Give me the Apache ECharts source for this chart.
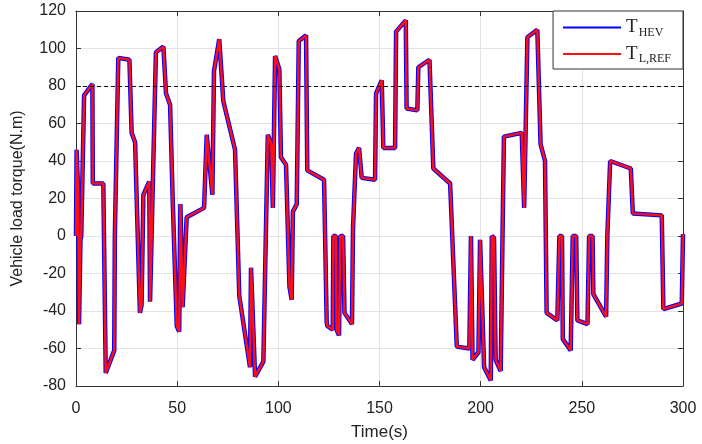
<!DOCTYPE html>
<html>
<head>
<meta charset="utf-8">
<script src="https://cdn.jsdelivr.net/npm/echarts@6/dist/echarts.min.js"></script>
<style>
  html, body { margin: 0; padding: 0; background: #fff; }
  #chart { width: 702px; height: 444px; }
</style>
</head>
<body>
<div id="chart"></div>
<script>
// time stamps (s)
const timeS = [
  0, 0.3, 1.0, 1.1, 1.5, 2.2, 2.6, 4.0, 8.1, 8.3, 13.5, 14.7, 18.9, 19.2, 19.4,
  20.9, 26.4, 27.5, 29.2, 31.6, 32.4, 33.3, 36.2, 36.6, 39.5, 43.2, 44.5, 46.5,
  47.8, 49.8, 51.0, 51.6, 52.7, 54.7, 63.3, 64.6, 67.4, 68.2, 70.8, 72.8, 78.6,
  80.7, 86.0, 86.5, 88.5, 92.6, 94.8, 96.5, 97.3, 98.4, 100.5, 101.3, 103.8,
  105.5, 106.6, 107.2, 109.1, 110.1, 113.7, 114.3, 122.6, 123.9, 124.2, 126.9,
  127.2, 128.5, 128.8, 130.0, 130.6, 132.0, 132.7, 136.4, 136.9, 138.4, 139.9,
  141.2, 147.8, 148.3, 151.1, 151.9, 157.7, 158.2, 163.0, 163.4, 168.7, 169.2,
  174.7, 176.6, 184.9, 188.2, 194.4, 195.2, 196.0, 198.9, 199.7, 201.7, 205.0,
  205.5, 206.6, 207.4, 209.9, 210.8, 211.5, 220.3, 221.5, 223.1, 228.0, 229.6,
  231.8, 232.6, 237.9, 238.9, 240.2, 240.6, 244.5, 245.5, 247.2, 247.8, 252.8,
  253.6, 255.3, 255.7, 262.0, 262.6, 264.0, 274.2, 275.2, 289.5, 290.3, 299.4, 300
];
// reference load torque T_L,REF (N.m)
const loadRef = [
  0, 46, 45, 22, -47, -2, 0, 75, 81, 28, 28, -73, -61, 0, 0,
  95, 94, 55, 50, -41, -37, 22, 29, -35, 98, 101, 76, 70,
  19, -48, -51, 17, -38, 10, 15, 54, 22, 88, 105, 72, 46,
  -32, -70, -17, -75, -67, 54, 49, 15, 96, 89, 42, 38,
  -27, -34, 13, 17, 104, 107, 35, 30, -46, -48, -50,
  0, 0, -50, -53, 0, 0, -41, -47, 4, 44, 47,
  31, 30, 76, 83, 47, 47, 109, 115, 68, 67, 90,
  94, 36, 28, -59, -60, 0, -66, -62, -2, -70, -77,
  0, -1, -66, -72, 0, 53, 55, 15, 106, 110, 49,
  40, -41, -45, 0, 0, -55, -61, 0, 0, -45, -47,
  0, 0, -31, -43, 0, 40, 36, 12, 11, -39, -36, 1
];
// HEV delivered torque follows the reference (curves overlap in the figure)
const hevTorque = loadRef.slice();
const limitTorque = 80;

const xTicks = { min: 0, max: 300, interval: 50 };
const yTicks = { min: -80, max: 120, interval: 20 };

const toPairs = (vals) => timeS.map((t, i) => [t, vals[i]]);

const chart = echarts.init(document.getElementById("chart"));
const tickFont = { fontFamily: "Liberation Sans", fontSize: 16, color: "#222" };

chart.setOption({
  animation: false,
  grid: { left: 76, right: 19, top: 11, bottom: 58, outerBoundsMode: "none" },
  legend: {
    right: 19,
    top: 11,
    orient: "vertical",
    backgroundColor: "#fff",
    borderColor: "#333",
    borderWidth: 1,
    borderRadius: 0,
    padding: [7, 12, 4, 10],
    itemGap: 6,
    itemWidth: 58,
    itemHeight: 2,
    icon: "rect",
    formatter: function (name) {
      return name === "T_HEV" ? "{t|T}{s|HEV}" : "{t|T}{s|L,REF}";
    },
    textStyle: {
      rich: {
        t: { fontFamily: "Liberation Serif", fontSize: 19, color: "#222" },
        s: { fontFamily: "Liberation Serif", fontSize: 12, color: "#222", padding: [10, 0, 0, 1] }
      }
    },
    data: ["T_HEV", "T_L,REF"]
  },
  xAxis: [
    {
      type: "value",
      min: xTicks.min, max: xTicks.max, interval: xTicks.interval,
      name: "Time(s)",
      nameLocation: "middle",
      nameGap: 38,
      nameTextStyle: { fontFamily: "Liberation Sans", fontSize: 17, color: "#222" },
      axisLine: { onZero: false, lineStyle: { color: "#333", width: 1 } },
      axisTick: { inside: true, length: 5, lineStyle: { color: "#333" } },
      axisLabel: Object.assign({ margin: 15 }, tickFont),
      splitLine: { show: true, lineStyle: { color: "#e3e3e3", width: 1 } }
    },
    {
      type: "value", position: "top",
      min: xTicks.min, max: xTicks.max, interval: xTicks.interval,
      axisLine: { onZero: false, lineStyle: { color: "#333", width: 1 } },
      axisTick: { inside: true, length: 5, lineStyle: { color: "#333" } },
      axisLabel: { show: false },
      splitLine: { show: false }
    }
  ],
  yAxis: [
    {
      type: "value",
      min: yTicks.min, max: yTicks.max, interval: yTicks.interval,
      name: "Vehicle load torque(N.m)",
      nameLocation: "middle",
      nameGap: 50,
      nameTextStyle: { fontFamily: "Liberation Sans", fontSize: 16, color: "#222" },
      axisLine: { show: true, onZero: false, lineStyle: { color: "#333", width: 1 } },
      axisTick: { show: true, inside: true, length: 5, lineStyle: { color: "#333" } },
      axisLabel: Object.assign({ margin: 10 }, tickFont),
      splitLine: { show: true, lineStyle: { color: "#e3e3e3", width: 1 } }
    },
    {
      type: "value", position: "right",
      min: yTicks.min, max: yTicks.max, interval: yTicks.interval,
      axisLine: { show: true, onZero: false, lineStyle: { color: "#333", width: 1 } },
      axisTick: { show: true, inside: true, length: 5, lineStyle: { color: "#333" } },
      axisLabel: { show: false },
      splitLine: { show: false }
    }
  ],
  series: [
    {
      name: "T_HEV",
      type: "line",
      data: toPairs(hevTorque),
      showSymbol: false,
      color: "#0000ff",
      lineStyle: { color: "#0000ff", width: 4.5 },
      z: 2,
      markLine: {
        silent: true,
        symbol: "none",
        label: { show: false },
        lineStyle: { color: "#111", type: [4, 3], width: 1 },
        data: [{ yAxis: limitTorque }]
      }
    },
    {
      name: "T_L,REF",
      type: "line",
      data: toPairs(loadRef),
      showSymbol: false,
      color: "#ff1010",
      lineStyle: { color: "#ff1010", width: 2.5 },
      z: 3
    }
  ]
});
</script>
</body>
</html>
